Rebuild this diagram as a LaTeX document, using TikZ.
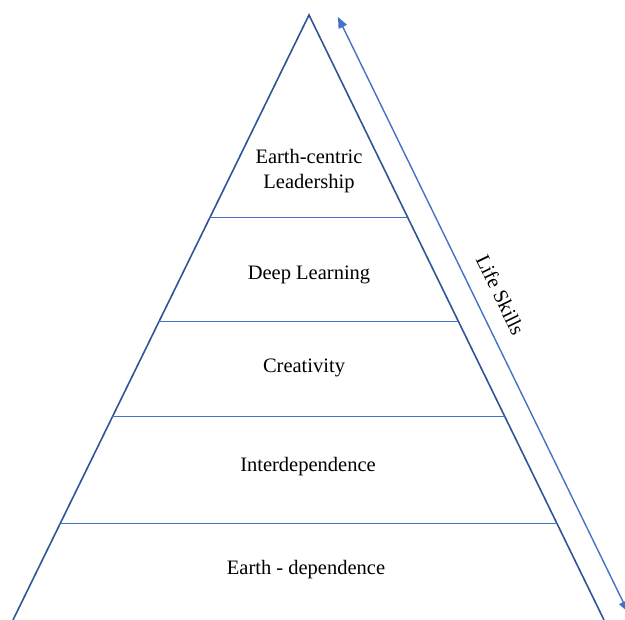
\documentclass[tikz,border=0pt]{standalone}
\usepackage{fontspec}
\setmainfont{Liberation Serif}
\usepackage{tikz}
\usetikzlibrary{arrows.meta, calc}
\definecolor{pyramidblue}{RGB}{47,85,151}
\definecolor{layerblue}{RGB}{68,114,196}

\begin{document}
\begin{tikzpicture}[
    x=1pt, y=1pt,
    every node/.style={font=\fontsize{20.5}{25}\selectfont, align=center, text=black},
    edge/.style={pyramidblue, line width=1.6pt},
    divider/.style={layerblue, line width=0.9pt},
    lifearrow/.style={layerblue, line width=1.4pt, {Triangle[width=9pt,length=11pt]}-{Triangle[width=9pt,length=11pt]}}
]

% Canvas
\useasboundingbox (0,0) rectangle (625,620);

% Pyramid sides
\coordinate (apex) at (309,605);
\coordinate (baseL) at (13,0);
\coordinate (baseR) at (604,0);
\draw[edge] (baseL) -- (apex) -- (baseR);

% Layer dividers
\draw[divider] ($(apex)!0.334!(baseL)$) -- ($(apex)!0.334!(baseR)$);
\draw[divider] ($(apex)!0.506!(baseL)$) -- ($(apex)!0.506!(baseR)$);
\draw[divider] ($(apex)!0.664!(baseL)$) -- ($(apex)!0.664!(baseR)$);
\draw[divider] ($(apex)!0.840!(baseL)$) -- ($(apex)!0.840!(baseR)$);

% Layer labels
\node (leader) at (309,449) {Earth-centric\\Leadership};
\node (deep) at (309,345) {Deep Learning};
\node (creative) at (304,252) {Creativity};
\node (inter) at (308,153) {Interdependence};
\node (earth) at (306,50) {Earth - dependence};

% Life skills arrow
\coordinate (arrtop) at (338,603);
\coordinate (arrbot) at (628,8);
\draw[lifearrow] (arrtop) -- node[pos=0.485, sloped, above=13pt] (skills) {Life Skills} (arrbot);

\end{tikzpicture}
\end{document}
